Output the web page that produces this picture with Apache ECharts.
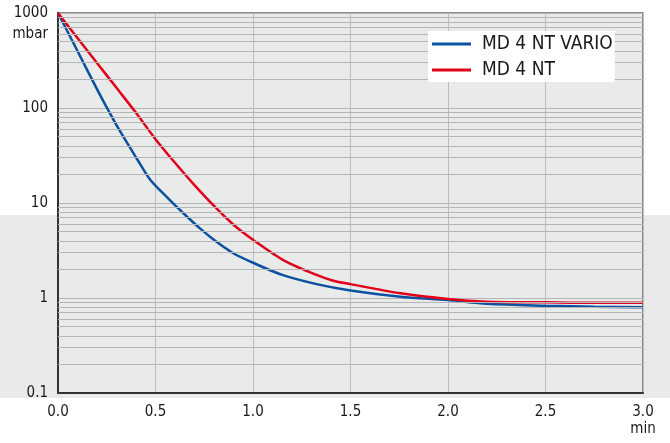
<!DOCTYPE html>
<html><head><meta charset="utf-8">
<script src="https://cdn.jsdelivr.net/npm/echarts@6/dist/echarts.min.js"></script>
<style>html,body{margin:0;padding:0;background:#fff}#c{width:670px;height:443px}</style>
</head><body><div id="c"></div>
<script>
const xVario = [0, 0.1, 0.2, 0.256, 0.3, 0.35, 0.41, 0.472, 0.557, 0.643, 0.728, 0.813, 0.899, 1.0, 1.15, 1.326, 1.5, 1.757, 2.0, 2.2, 2.5, 2.75, 3.0];
const yVario = [1000, 398, 158, 96, 66, 44.6, 28, 17.7, 11.6, 7.8, 5.4, 3.9, 2.96, 2.35, 1.75, 1.4, 1.2, 1.03, 0.95, 0.87, 0.83, 0.81, 0.80];
const xNT = [0, 0.1, 0.2, 0.3, 0.4, 0.5, 0.6, 0.7, 0.8, 0.9, 1.0, 1.155, 1.326, 1.412, 1.5, 1.757, 2.0, 2.2, 2.5, 2.75, 3.0];
const yNT = [1000, 545, 298, 163, 89, 47, 26.5, 15.4, 9.3, 5.9, 4.1, 2.51, 1.75, 1.52, 1.40, 1.12, 0.975, 0.915, 0.90, 0.89, 0.89];
const seriesNames = ['MD 4 NT VARIO', 'MD 4 NT'];
const yMinorLines = [0.2,0.3,0.4,0.5,0.6,0.7,0.8,0.9, 2,3,4,5,6,7,8,9, 20,30,40,50,60,70,80,90, 200,300,400,500,600,700,800,900];

const font = '"DejaVu Sans Condensed", "DejaVu Sans", sans-serif';
const chart = echarts.init(document.getElementById('c'), null, {renderer: 'canvas'});
const zip = (xs, ys) => xs.map((x, i) => [x, ys[i]]);
chart.setOption({
  animation: false,
  graphic: [{type: 'rect', z: -100, silent: true, shape: {x: 0, y: 215, width: 670, height: 183}, style: {fill: '#e9eaea'}}],
  grid: {left: 58, right: 27, top: 13, bottom: 50, show: true, backgroundColor: '#e9eaea', borderColor: '#666', borderWidth: 1.5},
  legend: {
    orient: 'vertical', left: 428, top: 31, backgroundColor: '#fff', padding: [3, 2, 2, 4], z: 10,
    icon: 'rect', itemWidth: 39, itemHeight: 3, itemGap: 6,
    textStyle: {fontFamily: font, fontSize: 19, color: '#1a1a1a', lineHeight: 20, padding: [0, 0, 0, 6]},
    data: seriesNames
  },
  xAxis: {
    type: 'value', min: 0, max: 3, interval: 0.5,
    name: 'min', nameLocation: 'end', nameGap: 0,
    nameTextStyle: {fontFamily: font, fontSize: 15, color: '#1a1a1a', align: 'center', verticalAlign: 'top', padding: [29, 0, 0, 0]},
    axisLine: {lineStyle: {color: '#333', width: 2}},
    axisTick: {show: false},
    axisLabel: {fontFamily: font, fontSize: 15, color: '#1a1a1a', margin: 12, formatter: v => v.toFixed(1)},
    splitLine: {show: true, lineStyle: {color: '#bdbdbd', width: 1}}
  },
  yAxis: {
    type: 'log', logBase: 10, min: 0.1, max: 1000,
    name: 'mbar', nameLocation: 'end', nameGap: -21,
    nameTextStyle: {fontFamily: font, fontSize: 15, color: '#1a1a1a', align: 'right', verticalAlign: 'middle', padding: [0, 10, 0, 0]},
    axisLine: {show: true, lineStyle: {color: '#333', width: 2}},
    axisTick: {show: false},
    axisLabel: {fontFamily: font, fontSize: 15, color: '#1a1a1a', margin: 10, formatter: v => String(v)},
    splitLine: {show: true, lineStyle: {color: '#b5b5b5', width: 1}}
  },
  series: [
    {
      name: seriesNames[0], type: 'line', data: zip(xVario, yVario), smooth: 0.3, showSymbol: false,
      lineStyle: {color: '#0a52a0', width: 2.5}, itemStyle: {color: '#0a52a0'}, z: 2,
      markLine: {silent: true, symbol: 'none', label: {show: false}, animation: false,
        lineStyle: {color: '#b5b5b5', width: 1, type: 'solid'},
        data: yMinorLines.map(v => ({yAxis: v}))}
    },
    {
      name: seriesNames[1], type: 'line', data: zip(xNT, yNT), smooth: 0.3, showSymbol: false,
      lineStyle: {color: '#e2001a', width: 2.5}, itemStyle: {color: '#e2001a'}, z: 3
    }
  ]
});
</script></body></html>
